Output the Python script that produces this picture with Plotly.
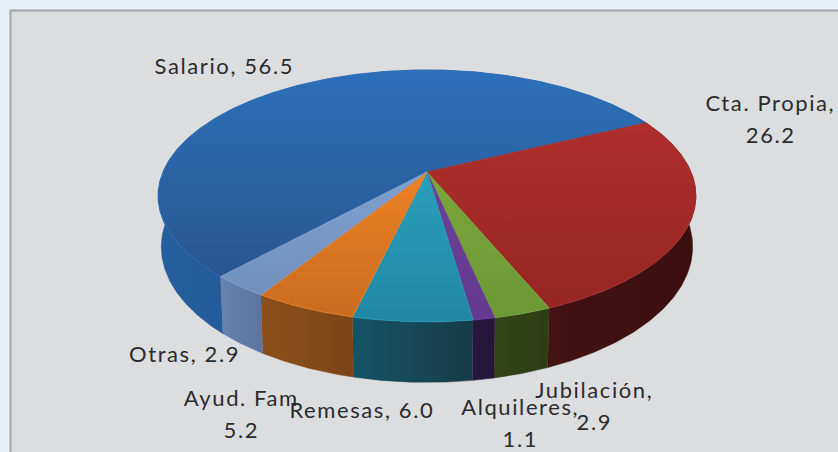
import numpy as np
import plotly.graph_objects as go

categories = ["Salario", "Cta. Propia", "Jubilación", "Alquileres", "Remesas", "Ayud. Fam", "Otras"]
values = [56.5, 26.2, 2.9, 1.1, 6.0, 5.2, 2.9]
tick_labels = ["Salario, 56.5", "Cta. Propia,<br>26.2", "Jubilación,<br>2.9", "Alquileres,<br>1.1",
               "Remesas, 6.0", "Ayud. Fam<br>5.2", "Otras, 2.9"]

W, H = 838, 452
CX, CY, RX, RY, K, DEPTH = 427.0, 172.0, 264.0, 121.4, 0.19, 49.0
BOUNDARY = 26.0
INK = "#2b2b2d"
LINE_GAP = 32

top_colors = [
    ("#2C70BA", "#2A5690"), ("#AE2F2C", "#962523"), ("#7BA63C", "#6C9835"), ("#6C4098", "#643A90"),
    ("#2A9FBA", "#1F88A5"), ("#EE8024", "#C96C1E"), ("#7F9FCE", "#7290BD"),
]
wall_colors = [
    ("#255E9E", "#1E4C88"), ("#431212", "#3A0F0F"), ("#334419", "#2E3D15"), ("#28183F", "#25153A"),
    ("#155566", "#173B49"), ("#8C4F1B", "#7C4517"), ("#6783B0", "#5C759F"),
]
label_pos = [(224, 65), (770, 118), (594, 405), (520, 422), (362, 409), (241, 413), (184, 353)]


def rim(theta_deg, lower=False):
    t = np.radians(theta_deg)
    X, Y = np.cos(t), np.sin(t)
    w = 1 + K * Y
    x = CX + RX * X / w
    y = CY - RY * Y / w
    if lower:
        y = y + DEPTH / w
        x = CX + (x - CX) * 0.988
    return x, y


fracs = np.array(values) / sum(values) * 360
ends = BOUNDARY + fracs[0] - np.cumsum(fracs)
starts = ends + fracs

fig = go.Figure()

# side walls first, then top faces painted over them
for a, b, name, cols in zip(starts, ends, categories, wall_colors):
    th = np.linspace(a, b, max(int(abs(a - b)), 2) * 2)
    ux, uy = rim(th)
    lx, ly = rim(th[::-1], lower=True)
    fig.add_trace(go.Scatter(
        x=np.r_[ux, lx], y=np.r_[uy, ly], mode="lines", fill="toself", name=name + " lateral",
        line=dict(width=0.5, color=cols[1]), hoverinfo="skip",
        fillgradient=dict(type="horizontal", colorscale=[[0, cols[0]], [1, cols[1]]]),
    ))
for a, b, name, cols in zip(starts, ends, categories, top_colors):
    th = np.linspace(a, b, max(int(abs(a - b)), 2) * 2)
    ux, uy = rim(th)
    fig.add_trace(go.Scatter(
        x=np.r_[CX, ux, CX], y=np.r_[CY, uy, CY], mode="lines", fill="toself", name=name,
        line=dict(width=0.8, color=cols[0]), hoverinfo="skip",
        fillgradient=dict(type="vertical", colorscale=[[0, cols[1]], [1, cols[0]]]),
    ))

annotations = []
for label, pos in zip(tick_labels, label_pos):
    lines = label.split("<br>")
    for i, line in enumerate(lines):
        annotations.append(dict(
            x=pos[0], y=pos[1] + (i - (len(lines) - 1) / 2) * LINE_GAP, text=line, xref="x", yref="y",
            showarrow=False, xanchor="center", yanchor="middle", align="center",
            font=dict(family="Lato", size=22, color=INK)))

fig.update_layout(
    width=W, height=H, margin=dict(l=0, r=0, t=0, b=0), paper_bgcolor="#E4F1F9", plot_bgcolor="rgba(0,0,0,0)",
    showlegend=False,
    xaxis=dict(range=[0, W], visible=False, fixedrange=True),
    yaxis=dict(range=[H, 0], visible=False, fixedrange=True),
    annotations=annotations,
    shapes=[dict(type="rect", xref="x", yref="y", x0=10.5, y0=10.5, x1=W + 5, y1=H + 5,
                 fillcolor="#DCDDDF", line=dict(color="#A3A3A5", width=2), layer="below")],
)
fig.write_html("out.html", config=dict(displayModeBar=False),
               post_script="document.body.style.margin='0';document.documentElement.style.overflow='hidden';"
                           "document.querySelectorAll('.annotation-text').forEach(function(t){t.style.letterSpacing='1.6px';});")
